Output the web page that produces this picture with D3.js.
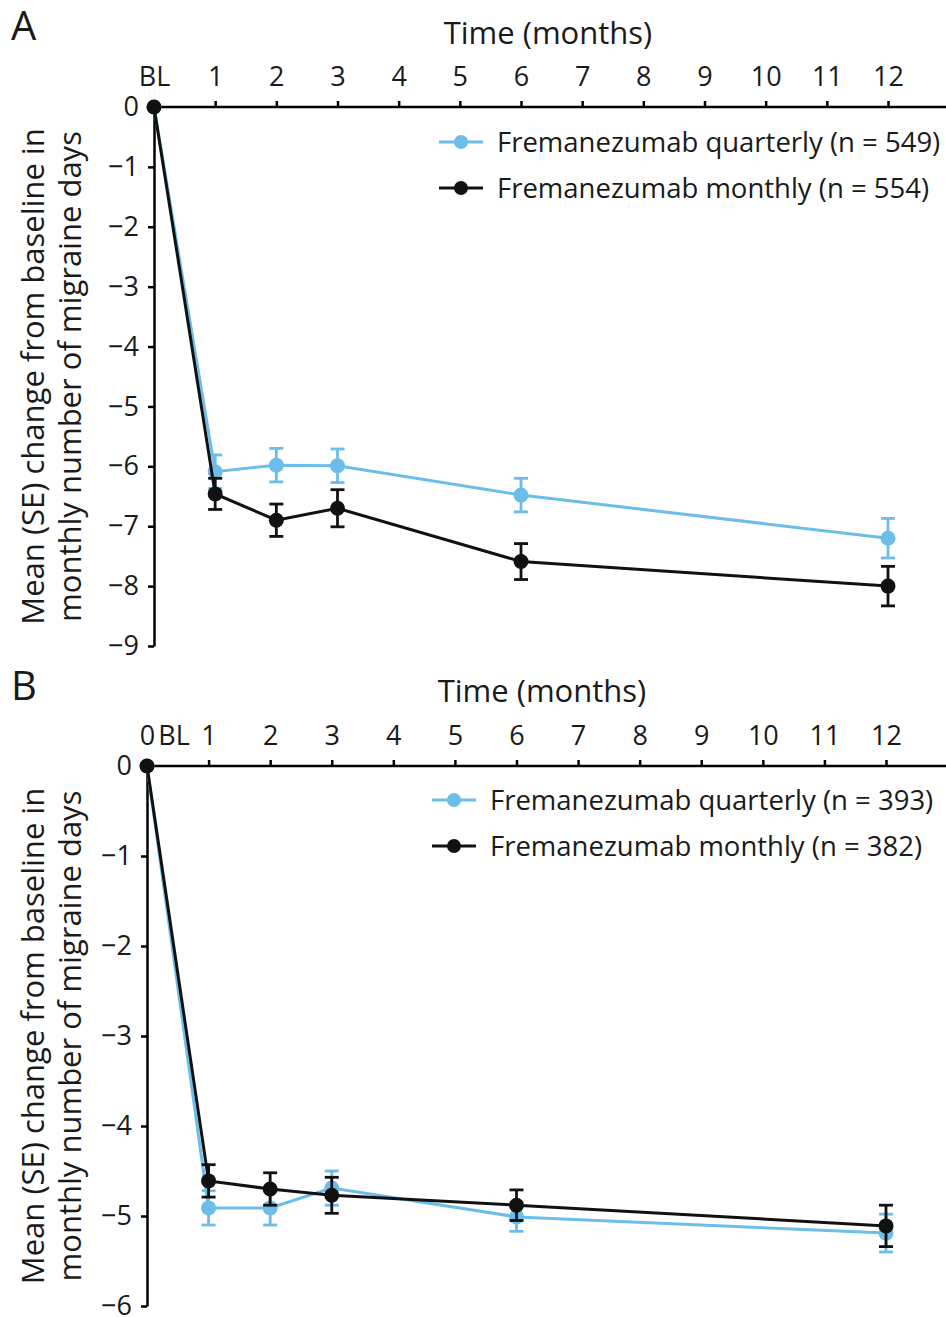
<!DOCTYPE html>
<html>
<head>
<meta charset="utf-8">
<script src="https://cdn.jsdelivr.net/npm/d3@7"></script>
<style>
  body { margin: 0; background: #fff; }
  svg { display: block; font-family: "Open Sans", sans-serif; }
</style>
</head>
<body>
<svg width="946" height="1317"></svg>
<script>
// data
const months = [0, 1, 2, 3, 6, 12];
const xTicks = [0, 1, 2, 3, 4, 5, 6, 7, 8, 9, 10, 11, 12];

// panel A
const quarterlyA = [0, -6.09, -5.98, -5.99, -6.48, -7.20];
const quarterlyA_se = [0, 0.28, 0.28, 0.28, 0.28, 0.33];
const monthlyA = [0, -6.46, -6.90, -6.70, -7.59, -8.00];
const monthlyA_se = [0, 0.26, 0.27, 0.31, 0.30, 0.33];
const legendA = ["Fremanezumab quarterly (n = 549)", "Fremanezumab monthly (n = 554)"];

// panel B
const quarterlyB = [0, -4.91, -4.91, -4.69, -5.01, -5.19];
const quarterlyB_se = [0, 0.19, 0.19, 0.19, 0.16, 0.21];
const monthlyB = [0, -4.61, -4.70, -4.77, -4.88, -5.11];
const monthlyB_se = [0, 0.18, 0.18, 0.20, 0.17, 0.23];
const legendB = ["Fremanezumab quarterly (n = 393)", "Fremanezumab monthly (n = 382)"];

const blue = "#6cbde9";
const black = "#111";
const ink = "#1a1a1a";
const svg = d3.select("svg");

function drawPanel(p) {
  const g = svg.append("g");
  const x = d3.scaleLinear().domain([0, 12]).range([p.x0, p.x1]);
  const y = d3.scaleLinear().domain([0, p.yMin]).range([p.y0, p.y1]);

  // panel letter
  g.append("text").attr("x", 11).attr("y", p.letterY)
    .attr("font-size", 40).attr("fill", ink).text(p.letter);

  // x axis on top
  const xa = g.append("g").attr("transform", `translate(0,${p.y0})`)
    .call(d3.axisTop(x).tickValues(xTicks).tickSize(6).tickSizeOuter(0).tickPadding(15)
      .tickFormat(d => p.xLabel(d)));
  xa.select(".domain").attr("d", `M${p.x0},0H946`);
  xa.selectAll("path,line").attr("stroke", "#000").attr("stroke-width", 2.5);
  xa.selectAll("text").attr("font-size", 27).attr("fill", ink).attr("font-family", "Open Sans");
  if (p.extraBL) {
    g.append("text").attr("x", x(0) + 27).attr("y", p.y0 - 21)
      .attr("text-anchor", "middle").attr("font-size", 27).attr("fill", ink).text("BL");
  }

  g.append("text").attr("x", p.titleX).attr("y", p.titleY)
    .attr("text-anchor", "middle").attr("font-size", 31).attr("fill", ink)
    .text("Time (months)");

  // y axis
  const ya = g.append("g").attr("transform", `translate(${p.x0},0)`)
    .call(d3.axisLeft(y).ticks(-p.yMin).tickSize(6).tickSizeOuter(0).tickPadding(9)
      .tickFormat(d3.format("d")));
  ya.selectAll("path,line").attr("stroke", "#000").attr("stroke-width", 2.5);
  ya.selectAll("text").attr("font-size", 27).attr("fill", ink).attr("font-family", "Open Sans");

  const midY = (p.y0 + p.y1) / 2;
  const yt = g.append("text").attr("transform", `translate(44,${midY}) rotate(-90)`)
    .attr("text-anchor", "middle").attr("font-size", 31).attr("fill", ink);
  yt.append("tspan").attr("x", 0).attr("dy", 0).text("Mean (SE) change from baseline in");
  yt.append("tspan").attr("x", 0).attr("dy", 37).text("monthly number of migraine days");

  // series
  p.series.forEach(s => {
    const pts = months.map((m, i) => ({ m, v: s.values[i], se: s.se[i] }));
    const line = d3.line().x(d => x(d.m)).y(d => y(d.v));
    g.append("path").datum(pts).attr("d", line)
      .attr("fill", "none").attr("stroke", s.color).attr("stroke-width", 3);
    const eb = g.append("g").selectAll("g").data(pts.filter(d => d.se > 0)).join("g")
      .attr("stroke", s.color).attr("stroke-width", 2.8);
    eb.append("line").attr("x1", d => x(d.m)).attr("x2", d => x(d.m))
      .attr("y1", d => y(d.v - d.se)).attr("y2", d => y(d.v + d.se));
    eb.append("line").attr("x1", d => x(d.m) - 7).attr("x2", d => x(d.m) + 7)
      .attr("y1", d => y(d.v - d.se)).attr("y2", d => y(d.v - d.se));
    eb.append("line").attr("x1", d => x(d.m) - 7).attr("x2", d => x(d.m) + 7)
      .attr("y1", d => y(d.v + d.se)).attr("y2", d => y(d.v + d.se));
    g.append("g").selectAll("circle").data(pts).join("circle")
      .attr("cx", d => x(d.m)).attr("cy", d => y(d.v)).attr("r", 7.5)
      .attr("fill", s.color);
  });

  // legend
  p.series.forEach((s, i) => {
    const ly = p.legY + i * 46;
    g.append("line").attr("x1", p.legX).attr("x2", p.legX + 44)
      .attr("y1", ly).attr("y2", ly).attr("stroke", s.color).attr("stroke-width", 3);
    g.append("circle").attr("cx", p.legX + 22).attr("cy", ly).attr("r", 7).attr("fill", s.color);
    g.append("text").attr("x", p.legX + 58).attr("y", ly).attr("dy", "0.35em")
      .attr("font-size", 27.5).attr("fill", ink).text(s.label);
  });
}

drawPanel({
  letter: "A", letterY: 40,
  x0: 154, x1: 888, y0: 107, y1: 646, yMin: -9,
  titleX: 548, titleY: 44,
  xLabel: d => d === 0 ? "BL" : String(d), extraBL: false,
  legX: 439, legY: 142,
  series: [
    { label: legendA[0], values: quarterlyA, se: quarterlyA_se, color: blue },
    { label: legendA[1], values: monthlyA, se: monthlyA_se, color: black }
  ]
});

drawPanel({
  letter: "B", letterY: 700,
  x0: 147, x1: 886, y0: 766, y1: 1306, yMin: -6,
  titleX: 542, titleY: 702,
  xLabel: d => String(d), extraBL: true,
  legX: 432, legY: 800,
  series: [
    { label: legendB[0], values: quarterlyB, se: quarterlyB_se, color: blue },
    { label: legendB[1], values: monthlyB, se: monthlyB_se, color: black }
  ]
});
</script>
</body>
</html>
